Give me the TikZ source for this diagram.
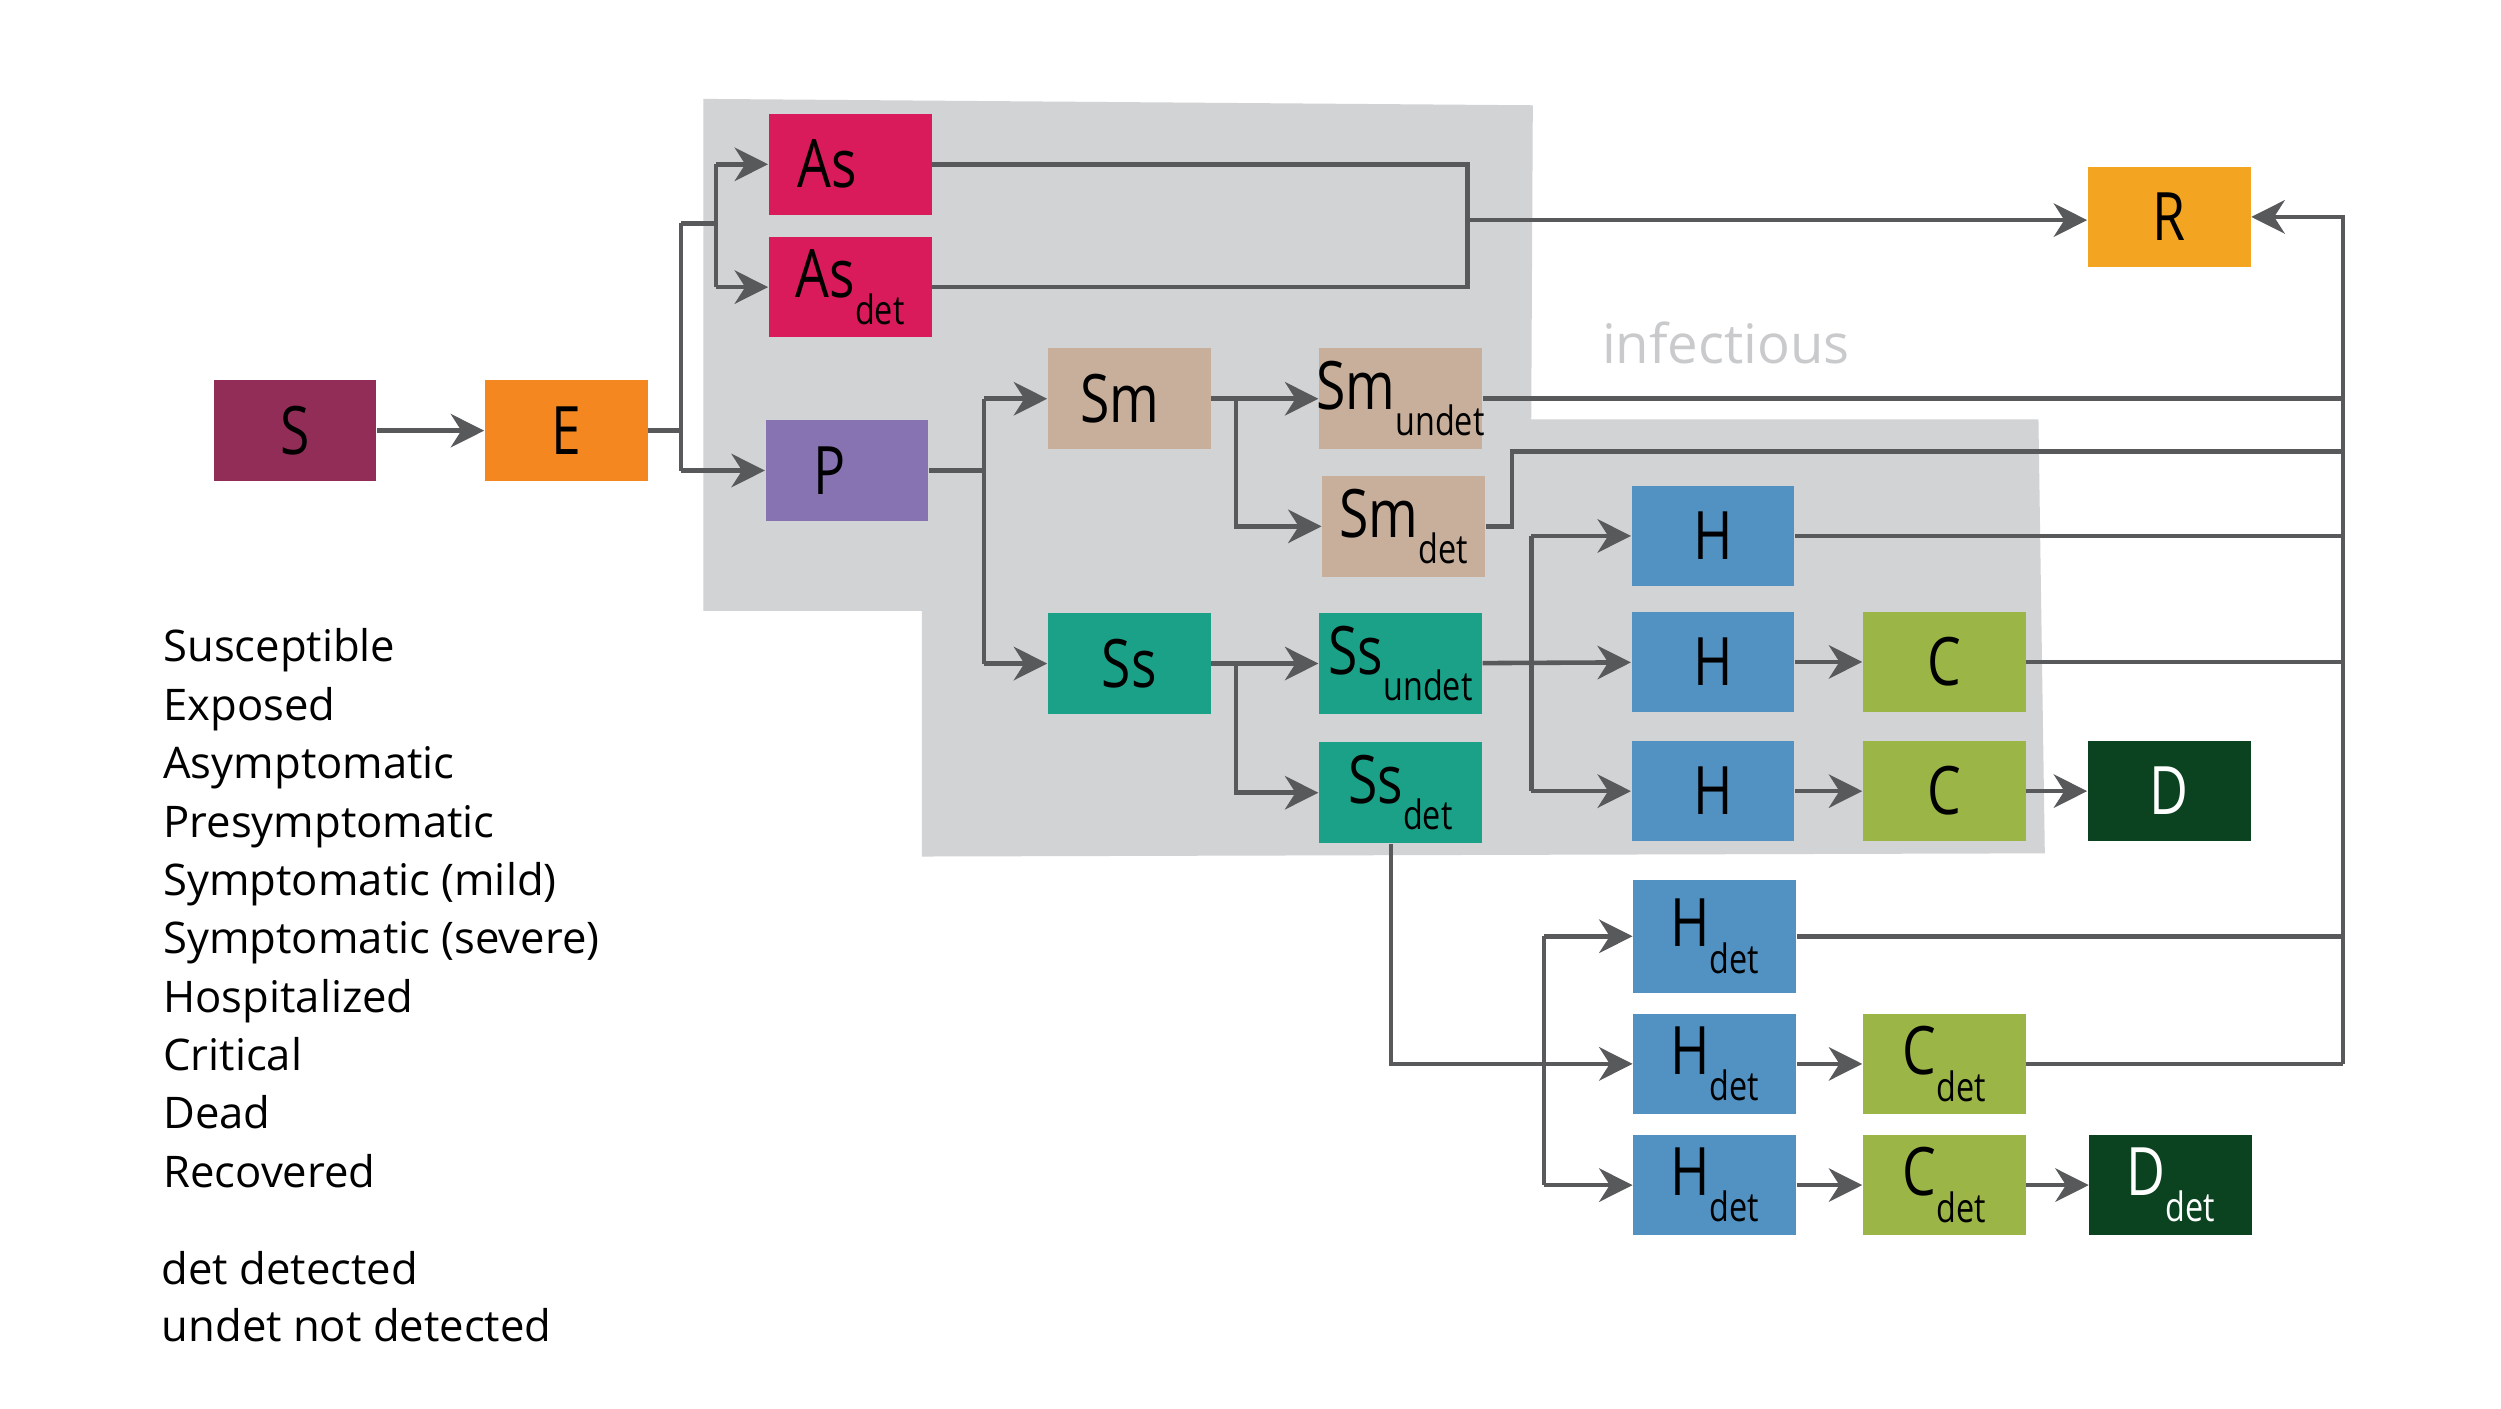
\documentclass[tikz,border=0pt]{standalone}
\usepackage{fontspec}
\setmainfont{Open Sans}
\newfontfamily\boxfont[FakeStretch=0.8]{Open Sans}
\usetikzlibrary{arrows.meta}

\definecolor{grp}{HTML}{D1D3D4}
\definecolor{lnc}{HTML}{58595B}
\definecolor{infc}{HTML}{C9CACC}
\definecolor{cS}{HTML}{922D58}
\definecolor{cE}{HTML}{F58720}
\definecolor{cA}{HTML}{D91B5C}
\definecolor{cP}{HTML}{8773B2}
\definecolor{cM}{HTML}{C8AF9B}
\definecolor{cV}{HTML}{1CA189}
\definecolor{cH}{HTML}{5292C3}
\definecolor{cC}{HTML}{9BB547}
\definecolor{cD}{HTML}{0B4220}
\definecolor{cR}{HTML}{F3A420}

\newcommand{\lowtxt}[1]{\raisebox{-7.5pt}{\fontsize{11.5}{13}\selectfont #1}}

\tikzset{
  comp/.style={fill=#1, minimum width=1.627cm, minimum height=1.005cm, inner sep=0pt,
    font=\boxfont\fontsize{19}{22}\selectfont},
  flow/.style={draw=lnc, line width=1.3pt},
  arr/.style={flow, -{Stealth[length=9.5pt,width=9.5pt,inset=3pt]}},
  legend/.style={anchor=base west, inner sep=0pt, font=\fontsize{12.4}{15}\selectfont}
}

\begin{document}
\begin{tikzpicture}[x=0.01595cm, y=-0.01595cm]
    \useasboundingbox (0,0) rectangle (1568,883);
    % infectious area
    \fill[grp] (441,62) -- (961,66) -- (960,263) -- (1278,263) -- (1282,535)
        -- (578,537) -- (578,383) -- (441,383) -- cycle;
    \node[font=\fontsize{15.5}{18}\selectfont, text=infc] (inf) at (1082,215) {infectious};

    % compartments
    \node[comp=cS] (S) at (185,270) {S};
    \node[comp=cE] (E) at (355,270) {E};
    \node[comp=cA] (As) at (533,103) {As\hspace*{0.45cm}};
    \node[comp=cA] (Asd) at (533,180) {As\lowtxt{det}};
    \node[comp=cP] (P) at (531,295) {P\hspace*{0.35cm}};
    \node[comp=cM] (Sm) at (708,250) {Sm\hspace*{0.19cm}};
    \node[comp=cM, inner xsep=-2pt] (Smu) at (878,250) {Sm\lowtxt{undet}};
    \node[comp=cM] (Smd) at (880,330) {Sm\lowtxt{det}};
    \node[comp=cV] (Ss) at (708,416) {Ss};
    \node[comp=cV, inner xsep=-1pt] (Ssu) at (878,416) {Ss\lowtxt{undet}};
    \node[comp=cV] (Ssd) at (878,497) {Ss\lowtxt{det}};
    \node[comp=cH] (H1) at (1074,336) {H};
    \node[comp=cH] (H2) at (1074,415) {H};
    \node[comp=cH] (H3) at (1074,496) {H};
    \node[comp=cC] (C2) at (1219,415) {C};
    \node[comp=cC] (C3) at (1219,496) {C};
    \node[comp=cD, text=white] (D) at (1360,496) {D};
    \node[comp=cR] (R) at (1360,136) {R};
    \node[comp=cH, minimum height=1.13cm] (Hd1) at (1075,587) {H\lowtxt{det}};
    \node[comp=cH] (Hd2) at (1075,667) {H\lowtxt{det}};
    \node[comp=cH] (Hd3) at (1075,743) {H\lowtxt{det}};
    \node[comp=cC] (Cd2) at (1219,667) {C\lowtxt{det}};
    \node[comp=cC] (Cd3) at (1219,743) {C\lowtxt{det}};
    \node[comp=cD, text=white] (Dd) at (1361,743) {D\lowtxt{det}};

    % junctions
    \coordinate (eJ) at (427,140);
    \coordinate (aJ) at (449,140);
    \coordinate (aR) at (920,138);
    \coordinate (pJ) at (617,295);
    \coordinate (mJ) at (775,250);
    \coordinate (sJ) at (775,416);
    \coordinate (dJ) at (948,283);
    \coordinate (hJ) at (960,416);
    \coordinate (sdX) at (872,529);
    \coordinate (qJ) at (968,667);
    \coordinate (rX) at (1469,667);

    % flows
    \draw[arr] (S) -- (E);
    \draw[flow] (E) -- (E -| eJ);
    \draw[flow] (eJ) -- (eJ |- P);
    \draw[arr] (eJ |- P) -- (P);
    \draw[flow] (eJ) -- (aJ);
    \draw[flow] (aJ |- As) -- (aJ |- Asd);
    \draw[arr] (aJ |- As) -- (As);
    \draw[arr] (aJ |- Asd) -- (Asd);
    \draw[flow] (As.east) -| (aR) |- (Asd.east);
    \draw[arr] (aR) -- (aR -| R.west);

    \draw[flow] (P) -- (pJ);
    \draw[flow] (pJ |- Sm) -- (pJ |- Ss);
    \draw[arr] (pJ |- Sm) -- (Sm);
    \draw[arr] (pJ |- Ss) -- (Ss);

    \draw[arr] (Sm) -- (Smu);
    \draw[arr] (mJ) |- (Smd);
    \draw[arr] (Ss) -- (Ssu);
    \draw[arr] (sJ) |- (Ssd);

    \draw[arr] (Ssu) -- (H2);
    \draw[flow] (hJ |- H1) -- (hJ |- H3);
    \draw[arr] (hJ |- H1) -- (H1);
    \draw[arr] (hJ |- H3) -- (H3);
    \draw[arr] (H2) -- (C2);
    \draw[arr] (H3) -- (C3);
    \draw[arr] (C3) -- (D);

    \draw[arr] (sdX) |- (Hd2);
    \draw[flow] (qJ |- Hd1) -- (qJ |- Hd3);
    \draw[arr] (qJ |- Hd1) -- (Hd1);
    \draw[arr] (qJ |- Hd3) -- (Hd3);
    \draw[arr] (Hd2) -- (Cd2);
    \draw[arr] (Hd3) -- (Cd3);
    \draw[arr] (Cd3) -- (Dd);

    % to recovered
    \draw[flow] (Smu) -- (Smu -| rX);
    \draw[flow] (Smd.east) -| (dJ) -- (dJ -| rX);
    \draw[flow] (H1) -- (H1 -| rX);
    \draw[flow] (C2) -- (C2 -| rX);
    \draw[flow] (Hd1) -- (Hd1 -| rX);
    \draw[flow] (Cd2) -- (rX);
    \draw[arr] (rX) |- (R.east);

    % legend
    \foreach \t [count=\i] in {Susceptible, Exposed, Asymptomatic, Presymptomatic,
        Symptomatic (mild), Symptomatic (severe), Hospitalized, Critical, Dead, Recovered}
        \node[legend] (leg\i) at (102,{415+36.6*(\i-1)}) {\t};
    \node[legend] (legdet) at (101,805) {det detected};
    \node[legend] (legundet) at (101,841) {undet not detected};
\end{tikzpicture}
\end{document}
